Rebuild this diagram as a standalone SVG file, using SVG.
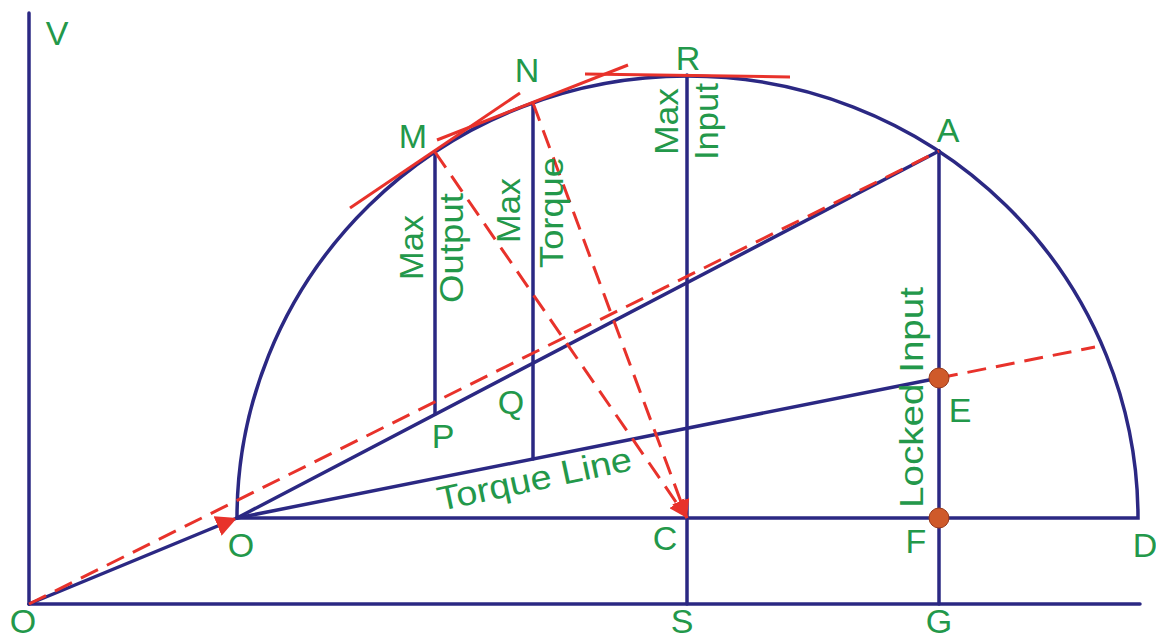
<svg xmlns="http://www.w3.org/2000/svg" width="1156" height="641" viewBox="0 0 1156 641">
<style>
.b{stroke:#2b2883;stroke-width:3.5;fill:none;stroke-linecap:round}
.r{stroke:#e8322b;stroke-width:3;fill:none}
.d{stroke:#e8322b;stroke-width:3;fill:none;stroke-dasharray:19 10}
.t{font-family:"Liberation Sans",Arial,sans-serif;font-size:34px;fill:#23984a}
.c{text-anchor:middle}
.dot{fill:#cf5a2a;stroke:#9a3a1a;stroke-width:1}
</style>
<defs>
<marker id="ah2" viewBox="0 0 10 10" refX="10" refY="5" markerWidth="6" markerHeight="6" orient="auto">
<path d="M0,0 L10,5 L0,10 z" fill="#e8322b"/>
</marker>
</defs>
<rect width="1156" height="641" fill="#fff"/>
<g id="connectors">
<line class="b" x1="29" y1="13" x2="29" y2="604"/>
<line class="b" x1="29" y1="604" x2="1140" y2="604"/>
<path class="b" d="M237,518 A450.5,442 0 0 1 1138,518 L237,518"/>
<line class="b" x1="29" y1="604" x2="237" y2="518" marker-end="url(#ah2)"/>
<line class="b" x1="237" y1="518" x2="939" y2="151"/>
<line class="b" x1="237" y1="518" x2="939" y2="378"/>
<line class="b" x1="939" y1="151" x2="939" y2="604"/>
<line class="b" x1="687" y1="75" x2="687" y2="604"/>
<line class="b" x1="435" y1="152" x2="435" y2="414"/>
<line class="b" x1="533" y1="103" x2="533" y2="459"/>
<line class="d" x1="29" y1="604" x2="939" y2="151"/>
<line class="d" x1="939" y1="378" x2="1095" y2="347"/>
<line class="d" x1="435" y1="152" x2="687" y2="518" marker-end="url(#ah2)"/>
<line class="d" x1="533" y1="103" x2="687" y2="518" marker-end="url(#ah2)"/>
<line class="r" x1="350" y1="208" x2="520" y2="93"/>
<line class="r" x1="437" y1="140" x2="628" y2="65"/>
<line class="r" x1="585" y1="74" x2="790" y2="77"/>
</g>
<g id="E"><circle class="dot" cx="939" cy="378" r="10"/><text class="t c" x="960" y="422">E</text></g>
<g id="F"><circle class="dot" cx="939" cy="518" r="10"/><text class="t c" x="916" y="553">F</text></g>
<g id="V"><text class="t c" x="57" y="45">V</text></g>
<g id="O1"><text class="t c" x="23" y="633">O</text></g>
<g id="O2"><text class="t c" x="241" y="557">O</text></g>
<g id="M"><text class="t c" x="413" y="148">M</text></g>
<g id="N"><text class="t c" x="527" y="82">N</text></g>
<g id="R"><text class="t c" x="688" y="70">R</text></g>
<g id="A"><text class="t c" x="948" y="142">A</text></g>
<g id="P"><text class="t c" x="443" y="448">P</text></g>
<g id="Q"><text class="t c" x="511" y="414">Q</text></g>
<g id="C"><text class="t c" x="665" y="550">C</text></g>
<g id="S"><text class="t c" x="682" y="633">S</text></g>
<g id="G"><text class="t c" x="939" y="633">G</text></g>
<g id="D"><text class="t c" x="1145" y="557">D</text></g>
<g id="labels">
<text class="t" transform="translate(423,280) rotate(-90)" textLength="65" lengthAdjust="spacingAndGlyphs">Max</text>
<text class="t" transform="translate(463,303) rotate(-90)" textLength="110" lengthAdjust="spacingAndGlyphs">Output</text>
<text class="t" transform="translate(520,243) rotate(-90)" textLength="65" lengthAdjust="spacingAndGlyphs">Max</text>
<text class="t" transform="translate(563,268) rotate(-90)" textLength="111" lengthAdjust="spacingAndGlyphs">Torque</text>
<text class="t" transform="translate(678,155) rotate(-90)" textLength="67" lengthAdjust="spacingAndGlyphs">Max</text>
<text class="t" transform="translate(718,160) rotate(-90)" textLength="77" lengthAdjust="spacingAndGlyphs">Input</text>
<text class="t" transform="translate(923,508) rotate(-90)" textLength="221" lengthAdjust="spacingAndGlyphs">Locked Input</text>
<text class="t" transform="translate(440,511) rotate(-12)" textLength="198" lengthAdjust="spacingAndGlyphs">Torque Line</text>
</g>
</svg>
